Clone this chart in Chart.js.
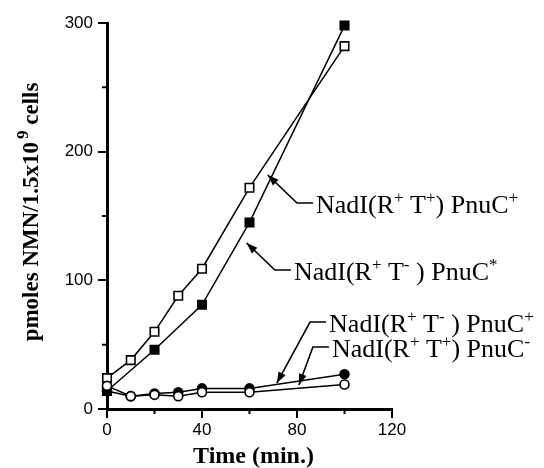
<!DOCTYPE html>
<html>
<head>
<meta charset="utf-8">
<script src="https://cdn.jsdelivr.net/npm/chart.js@4.4.1/dist/chart.umd.min.js"></script>
<style>
    html, body { margin: 0; padding: 0; background: #fff; }
    #wrap { width: 544px; height: 468px; position: relative; }
</style>
</head>
<body>
<div id="wrap"><canvas id="uptakeChart"></canvas></div>
<script>
// Data (time in min, pmoles NMN / 1.5x10^9 cells)
const timesOpenSq = [0, 10, 20, 30, 40, 60, 100];
const openSquares = [24, 38, 60, 88, 109, 172, 282];

const timesFilledSq = [0, 20, 40, 60, 100];
const filledSquares = [14, 46, 81, 145, 298];

const timesCircles = [0, 10, 20, 30, 40, 60, 100];
const filledCircles = [14, 10, 12, 13, 16, 16, 27];
const openCircles = [18, 10, 11, 10, 13, 13, 19];

const xTickLabels = [0, 40, 80, 120];
const yTickLabels = [0, 100, 200, 300];

// Callout labels: text pieces as [string, superscript?]
const calloutTexts = [
    [['NadI(R', false], ['+', true], [' T', false], ['+', true], [') PnuC', false], ['+', true]],
    [['NadI(R', false], ['+', true], [' T', false], ['-', true], [' ) PnuC', false], ['*', true]],
    [['NadI(R', false], ['+', true], [' T', false], ['-', true], [' ) PnuC', false], ['+', true]],
    [['NadI(R', false], ['+', true], [' T', false], ['+', true], [') PnuC', false], ['-', true]]
];
// arrow tip and elbow, in data units
const calloutTips = [{x: 67.7, y: 181.9}, {x: 58.8, y: 129.0}, {x: 71.5, y: 20.2}, {x: 80.8, y: 18.7}];
const calloutElbows = [{x: 80.0, y: 160.1}, {x: 70.7, y: 108.0}, {x: 85.5, y: 67.6}, {x: 86.7, y: 48.2}];

const serif = '"Liberation Serif", "Times New Roman", serif';
const sans = '"Liberation Sans", Arial, sans-serif';

function toPoints(xs, ys) {
    return xs.map((x, i) => ({x: x, y: ys[i]}));
}

function drawPieces(ctx, pieces, x, y, size, supSize, supRise) {
    pieces.forEach(p => {
        ctx.font = (p[1] ? supSize : size) + 'px ' + serif;
        ctx.fillText(p[0], x, p[1] ? y - supRise : y);
        x += ctx.measureText(p[0]).width;
    });
}

const decorations = {
    id: 'decorations',
    afterDraw(chart) {
        const ctx = chart.ctx;
        const xs = chart.scales.x;
        const ys = chart.scales.y;
        ctx.save();
        ctx.strokeStyle = '#000';
        ctx.fillStyle = '#000';

        // minor ticks
        ctx.lineWidth = 2;
        ctx.beginPath();
        [20, 60, 100].forEach(v => {
            const px = xs.getPixelForValue(v);
            ctx.moveTo(px, ys.bottom);
            ctx.lineTo(px, ys.bottom + 5);
        });
        [50, 150, 250].forEach(v => {
            const py = ys.getPixelForValue(v);
            ctx.moveTo(xs.left, py);
            ctx.lineTo(xs.left - 5, py);
        });
        ctx.stroke();

        // callouts
        ctx.lineWidth = 1.6;
        calloutTexts.forEach((pieces, i) => {
            const tx = xs.getPixelForValue(calloutTips[i].x);
            const ty = ys.getPixelForValue(calloutTips[i].y);
            const ex = xs.getPixelForValue(calloutElbows[i].x);
            const ey = ys.getPixelForValue(calloutElbows[i].y);
            ctx.beginPath();
            ctx.moveTo(ex + 16, ey);
            ctx.lineTo(ex, ey);
            ctx.lineTo(tx, ty);
            ctx.stroke();
            // arrow head
            const ang = Math.atan2(ty - ey, tx - ex);
            const len = 11, half = 4;
            ctx.beginPath();
            ctx.moveTo(tx, ty);
            ctx.lineTo(tx - len * Math.cos(ang) + half * Math.sin(ang), ty - len * Math.sin(ang) - half * Math.cos(ang));
            ctx.lineTo(tx - len * Math.cos(ang) - half * Math.sin(ang), ty - len * Math.sin(ang) + half * Math.cos(ang));
            ctx.closePath();
            ctx.fill();
            ctx.textBaseline = 'alphabetic';
            ctx.textAlign = 'left';
            drawPieces(ctx, pieces, ex + 19, ey + 10, 26, 17, 10);
        });

        // axis titles
        ctx.font = 'bold 24px ' + serif;
        ctx.textAlign = 'center';
        ctx.fillText('Time (min.)', (xs.left + xs.right) / 2 + 4, 463);

        ctx.translate(38, 212);
        ctx.rotate(-Math.PI / 2);
        const partA = 'pmoles NMN/1.5x10';
        const partB = '9';
        const partC = ' cells';
        ctx.font = 'bold 23px ' + serif;
        const wA = ctx.measureText(partA).width;
        const wC = ctx.measureText(partC).width;
        ctx.font = 'bold 17px ' + serif;
        const wB = ctx.measureText(partB).width + 3;
        let x0 = -(wA + wB + wC) / 2;
        ctx.textAlign = 'left';
        ctx.font = 'bold 23px ' + serif;
        ctx.fillText(partA, x0, 0);
        ctx.font = 'bold 17px ' + serif;
        ctx.fillText(partB, x0 + wA + 3, -10);
        ctx.font = 'bold 23px ' + serif;
        ctx.fillText(partC, x0 + wA + wB, 0);
        ctx.restore();
    }
};

function lineSet(label, points, style, filled, radius, order) {
    return {
        label: label,
        data: points,
        borderColor: '#000',
        borderWidth: 1.5,
        pointStyle: style,
        pointRadius: radius,
        pointBorderWidth: 1.6,
        pointBorderColor: '#000',
        pointBackgroundColor: filled ? '#000' : '#fff',
        tension: 0,
        fill: false,
        order: order
    };
}

new Chart(document.getElementById('uptakeChart'), {
    type: 'line',
    data: {
        datasets: [
            lineSet('open squares', toPoints(timesOpenSq, openSquares), 'rect', false, 6, 2),
            lineSet('filled squares', toPoints(timesFilledSq, filledSquares), 'rect', true, 6, 1),
            lineSet('open circles', toPoints(timesCircles, openCircles), 'circle', false, 4.5, 0),
            lineSet('filled circles', toPoints(timesCircles, filledCircles), 'circle', true, 4.5, 3)
        ]
    },
    options: {
        responsive: true,
        maintainAspectRatio: false,
        animation: false,
        clip: false,
        layout: {
            padding: {top: 23, right: 152, bottom: 0, left: 0}
        },
        plugins: {
            legend: {display: false},
            tooltip: {enabled: false}
        },
        scales: {
            x: {
                type: 'linear',
                min: 0,
                max: 120,
                afterFit: function(scale) { scale.height = 59; },
                ticks: {
                    stepSize: 40,
                    padding: 2,
                    color: '#000',
                    font: {family: sans, size: 17},
                    callback: v => xTickLabels.includes(v) ? String(v) : ''
                },
                grid: {
                    drawOnChartArea: false,
                    tickLength: 9,
                    lineWidth: 2,
                    color: '#000'
                },
                border: {display: true, width: 3, color: '#000'}
            },
            y: {
                min: 0,
                max: 300,
                afterFit: function(scale) { scale.width = 107; },
                ticks: {
                    stepSize: 100,
                    padding: 5,
                    color: '#000',
                    font: {family: sans, size: 17},
                    callback: v => yTickLabels.includes(v) ? String(v) : ''
                },
                grid: {
                    drawOnChartArea: false,
                    tickLength: 9,
                    lineWidth: 2,
                    color: '#000'
                },
                border: {display: true, width: 3, color: '#000'}
            }
        }
    },
    plugins: [decorations]
});
</script>
</body>
</html>
